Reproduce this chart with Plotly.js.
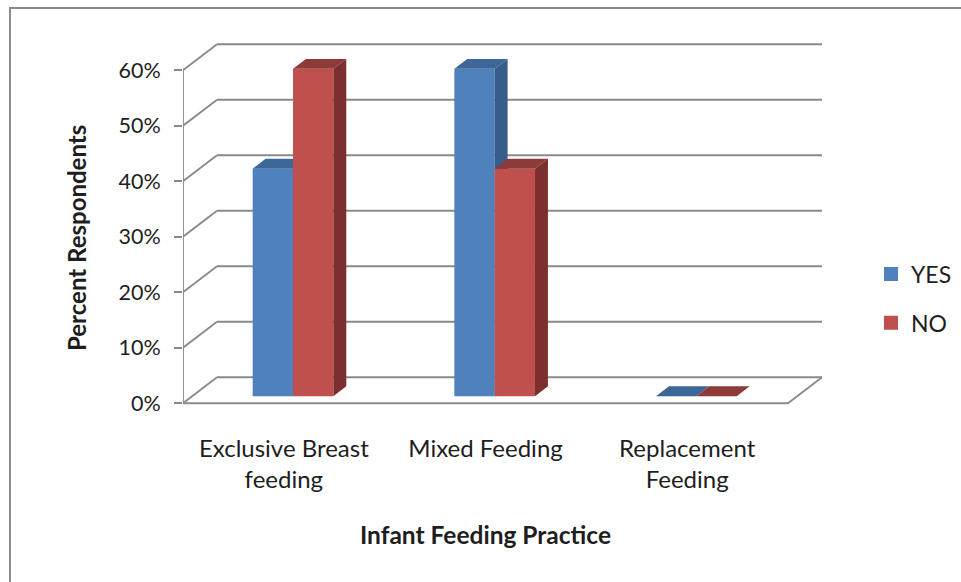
<!DOCTYPE html>
<html>
<head>
<meta charset="utf-8">
<script src="https://cdn.plot.ly/plotly-3.0.1.min.js"></script>
<style>
  html, body { margin: 0; padding: 0; background: #ffffff; }
  #chart { width: 961px; height: 582px; }
</style>
</head>
<body>
<div id="chart"></div>
<script>
// ---- data ----
const categories = ['Exclusive Breast<br>feeding', 'Mixed Feeding', 'Replacement<br>Feeding'];
const seriesNames = ['YES', 'NO'];
const yesValues = [41, 59, 0];
const noValues = [59, 41, 0];
const yTickVals = [0, 10, 20, 30, 40, 50, 60];
const yTickText = ['0%', '10%', '20%', '30%', '40%', '50%', '60%'];
const xTitle = 'Infant Feeding Practice';
const yTitle = 'Percent Respondents';

// ---- style / geometry ----
const FONT = 'Lato, "Open Sans", sans-serif';
const TEXT = '#1e1e1e';
const GRID = '#8a8a8a';
const M = {l: 183, r: 10, t: 38, b: 176, autoexpand: false};
const W = 961, H = 582;
const PW = W - M.l - M.r, PH = H - M.t - M.b;
const pxPerCat = 201.67, pxPerPct = 5.55;
const depthX = 34 / pxPerCat;   // wall depth, x units
const depthY = 26 / pxPerPct;   // wall depth, y units
const barStart = 0.27;   // bar depth position (fraction of wall depth)
const barDepth = 0.38;   // bar depth (fraction)
const barWidth = 0.2;
const colors = {
  YES: {front: '#4F81BD', top: '#3D6699', side: '#385D8A'},
  NO:  {front: '#C0504D', top: '#8E3A38', side: '#7C2F2D'}
};
const px2paperX = p => (p - M.l) / PW;
const px2paperY = p => (H - M.b - p) / PH;

const nCat = categories.length;
const xMin = -0.5, xMax = nCat - 0.5;
const yTop = yTickVals[yTickVals.length - 1];

const traces = [];

// walls, floor and gridlines
const gx = [], gy = [];
yTickVals.forEach(v => {
  gx.push(xMin + depthX, xMax + depthX, null); gy.push(v + depthY, v + depthY, null);
  gx.push(xMin, xMin + depthX, null); gy.push(v, v + depthY, null);
});
gx.push(xMin, xMin, null); gy.push(0, yTop, null);
gx.push(xMin, xMax, xMax + depthX, null); gy.push(0, 0, depthY, null);
traces.push({type: 'scatter', mode: 'lines', x: gx, y: gy, line: {color: GRID, width: 1.8},
  hoverinfo: 'skip', showlegend: false, connectgaps: false});

// bars as 3D prisms
const offX = barStart * depthX, offY = barStart * depthY;
const bdx = barDepth * depthX, bdy = barDepth * depthY;
const seriesValues = [yesValues, noValues];
for (let i = 0; i < nCat; i++) {
  seriesValues.forEach((vals, s) => {
    const name = seriesNames[s];
    const c = colors[name];
    const v = vals[i];
    const xl = i + offX + (s === 0 ? -barWidth : 0);
    const xr = xl + barWidth;
    const b = offY, t = offY + v;
    const poly = (xs, ys, col) => traces.push({type: 'scatter', mode: 'lines', x: xs, y: ys,
      fill: 'toself', fillcolor: col, line: {width: 0}, hoverinfo: 'skip', showlegend: false});
    poly([xl, xr, xr, xl, xl], [b, b, t, t, b], c.front);
    poly([xl, xr, xr + bdx, xl + bdx, xl], [t, t, t + bdy, t + bdy, t], c.top);
    poly([xr, xr + bdx, xr + bdx, xr, xr], [b, b + bdy, t + bdy, t, b], c.side);
  });
}

// legend entries
seriesNames.forEach((n, s) => {
  traces.push({type: 'scatter', mode: 'markers', x: [null], y: [null], name: n,
    legendgroup: n, marker: {symbol: 'square', size: 14, color: colors[n].front}, hoverinfo: 'skip'});
});

const layout = {
  width: W, height: H,
  margin: M,
  paper_bgcolor: '#ffffff', plot_bgcolor: 'rgba(0,0,0,0)',
  font: {family: FONT, color: TEXT, size: 23},
  showlegend: true,
  legend: {x: px2paperX(871), xanchor: 'left', y: px2paperY(298.5), yanchor: 'middle', traceorder: 'grouped',
    tracegroupgap: 16, font: {family: FONT, size: 23, color: TEXT}, bgcolor: 'rgba(0,0,0,0)'},
  xaxis: {range: [xMin, xMin + PW / pxPerCat], tickvals: [0, 1, 2], ticktext: categories,
    showgrid: false, zeroline: false, showline: false, ticks: '', fixedrange: true,
    tickfont: {family: FONT, size: 24, color: TEXT}, ticklabelstandoff: 26},
  yaxis: {range: [-0.5, -0.5 + PH / pxPerPct], tickvals: yTickVals, ticktext: yTickText,
    showgrid: false, zeroline: false, showline: false, ticks: 'outside', ticklen: 8,
    tickwidth: 1.8, tickcolor: GRID, fixedrange: true, ticklabelstandoff: 9,
    tickfont: {family: FONT, size: 21.5, color: TEXT}},
  annotations: [
    {text: '<b>' + xTitle + '</b>', xref: 'paper', yref: 'paper', x: px2paperX(485), y: px2paperY(534),
      xanchor: 'center', yanchor: 'middle', showarrow: false, font: {family: FONT, size: 24.5, color: TEXT}},
    {text: '<b>' + yTitle + '</b>', xref: 'paper', yref: 'paper', x: px2paperX(76), y: px2paperY(238),
      xanchor: 'center', yanchor: 'middle', textangle: -90, showarrow: false, font: {family: FONT, size: 24, color: TEXT}}
  ],
  shapes: [{type: 'rect', xref: 'paper', yref: 'paper',
    x0: px2paperX(10), x1: px2paperX(975), y0: px2paperY(600), y1: px2paperY(8),
    line: {color: '#8a8a8a', width: 2}, fillcolor: 'rgba(0,0,0,0)', layer: 'below'}]
};

Plotly.newPlot('chart', traces, layout, {displayModeBar: false, staticPlot: true});
</script>
</body>
</html>
